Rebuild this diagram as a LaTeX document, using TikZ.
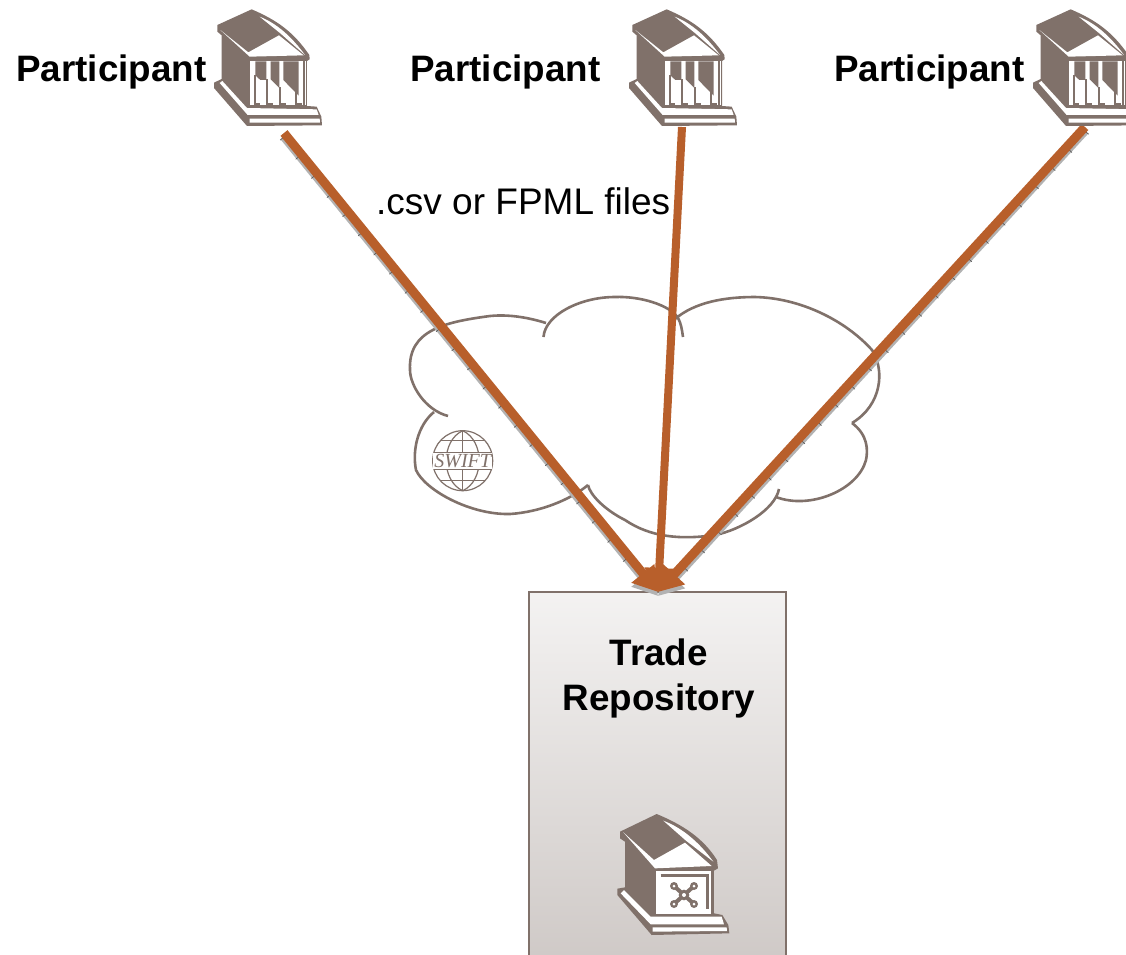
\documentclass[tikz,border=0pt]{standalone}
\usepackage{fontspec}
\setmainfont{Liberation Sans}
\newfontfamily\globefont{Liberation Serif}
\usetikzlibrary{arrows.meta}
\definecolor{brownink}{HTML}{80716A}
\definecolor{rust}{HTML}{B85F2B}
\definecolor{shadowgrey}{HTML}{B2B2B2}
\tikzset{
  lbl/.style={inner sep=0pt,font=\fontsize{37}{44.5}\selectfont,text=black},
  boldlbl/.style={lbl,font=\fontsize{36.8}{44.5}\selectfont\bfseries},
  cloudline/.style={draw=brownink,line width=2.6pt,line cap=butt},
  conn/.style={draw=rust,line width=9pt,-{Triangle[length=24pt,width=28pt]},rust},
  connthin/.style={conn,line width=8pt},
  connshadow/.style={draw=shadowgrey,line width=9pt,-{Triangle[length=24pt,width=28pt]},shadowgrey},
  connticks/.style={draw=black!65,line width=10.5pt,dash pattern=on .7pt off 24pt,shorten >=20pt},
  wh/.style={fill=white,draw=none},
  br/.style={fill=brownink,draw=none},
  pics/bank/.style={code={
    \begin{scope}[x=.3333pt,y=-.3333pt]
      % silhouette
      \fill[brownink] (140,28) -- (37,75) -- (37,95) -- (50,106) -- (50,237) -- (27,248) -- (27,264) -- (126,378) -- (351,376) -- (349,350) -- (335,320) -- (306,318) -- (306,183) -- (314,178) -- (313,165) .. controls (265,95) and (215,60) .. (140,28) -- cycle;
      % roof white
      \fill[wh] (46,90) -- (130,157) -- (222,106) -- (296,166) -- (134,170) -- cycle;
      \fill[wh] (164,50) .. controls (215,70) and (260,110) .. (300,165) -- (226,100) -- cycle;
      % colonnade
      \fill[wh] (136,184) -- (302,184) -- (302,316) -- (136,316) -- cycle;
      \fill[br] (151,184) -- (184,184) -- (184,240) -- (166,240) -- (151,226) -- cycle;
      \fill[br] (197,184) -- (223,184) -- (223,264) -- (197,238) -- cycle;
      \fill[br] (235,184) -- (281,184) -- (281,287) -- (235,240) -- cycle;
      \fill[br] (147,226) rectangle (153,318);
      \fill[br] (147,309) rectangle (166,318);
      \fill[br] (182,238) rectangle (188,318);
      \fill[br] (182,309) rectangle (205,318);
      \fill[br] (221,262) rectangle (227,318);
      \fill[br] (221,309) rectangle (243,318);
      \fill[br] (271,275) rectangle (277,318);
      \fill[br] (271,309) rectangle (290,318);
      \fill[br] (294,184) rectangle (299,318);
      % base
      \fill[wh] (52,243) -- (126,324) -- (335,328) -- (341,345) -- (128,345) -- (44,249) -- cycle;
      \fill[wh] (134,356) -- (344,356) -- (345,368) -- (134,368) -- cycle;
    \end{scope}
  }},
  pics/vaultbank/.style={code={
    \begin{scope}[x=.3333pt,y=-.3333pt]
      \fill[brownink] (170,42) -- (60,95) -- (60,115) -- (75,125) -- (75,262) -- (52,266) -- (52,285) -- (155,405) -- (388,400) -- (385,375) -- (367,345) -- (342,340) -- (342,212) -- (354,205) -- (351,180) .. controls (310,115) and (250,75) .. (170,42) -- cycle;
      \fill[wh] (70,97) -- (162,180) -- (255,128) -- (335,198) -- (165,205) -- cycle;
      \fill[wh] (190,62) .. controls (250,85) and (300,130) .. (340,185) -- (258,122) -- cycle;
      \fill[wh] (168,212) -- (334,212) -- (334,342) -- (168,342) -- cycle;
      \draw[brownink,line width=2.5pt] (182,226) -- (323,226) -- (323,326);
      \draw[brownink,line width=4pt] (222,258) -- (282,312) (282,258) -- (222,312);
      \fill[brownink] (252,285) circle (16);
      \fill[white] (252,285) circle (6);
      \foreach \cx/\cy in {222/258,282/258,222/312,282/312}{
        \fill[brownink] (\cx,\cy) circle (12);
        \fill[white] (\cx,\cy) circle (4.5);
      }
      \fill[wh] (72,270) -- (152,350) -- (365,350) -- (372,373) -- (152,373) -- (62,280) -- cycle;
      \fill[wh] (158,382) -- (380,382) -- (381,393) -- (158,395) -- cycle;
    \end{scope}
  }}
}
\begin{document}
\begin{tikzpicture}[x=1pt,y=-1pt]
  \useasboundingbox (0,0) rectangle (1126,954);
  \clip (0,0) rectangle (1126,954);
  \fill[white] (0,0) rectangle (1126,954);

  % Trade repository box
  \node[draw=brownink,line width=1.7pt,top color=brownink!9!white,bottom color=brownink!38!white,minimum width=257pt,minimum height=372pt,anchor=north west,inner sep=0pt] (tr) at (528.2,591.2) {};
  \node[boldlbl,align=center,anchor=base] (trlabel) at (658.8,710) {Trade\\Repository};
  \pic at (600,800) {vaultbank};

  % cloud
  \draw[cloudline] (448,416) .. controls (425,410) and (410,385) .. (410,370) .. controls (408,330) and (445,322) .. (490,316) .. controls (510,314) and (530,318) .. (546,323);
  \draw[cloudline] (543.5,337) .. controls (545,315) and (580,297) .. (615,297) .. controls (640,296) and (670,305) .. (678,318) .. controls (681,323) and (682,330) .. (683,337);
  \draw[cloudline] (675,319) .. controls (695,302) and (725,297) .. (755,297) .. controls (800,298) and (845,320) .. (872,350) .. controls (885,370) and (882,405) .. (852,423);
  \draw[cloudline] (852,423) .. controls (868,435) and (868,450) .. (866,460) .. controls (858,490) and (810,510) .. (776,497);
  \draw[cloudline] (779,489) .. controls (775,510) and (740,530) .. (715,535) .. controls (680,540) and (650,537) .. (625,520) .. controls (605,510) and (590,495) .. (588,485);
  \draw[cloudline] (588,485) .. controls (570,500) and (540,512) .. (510,514) .. controls (470,515) and (425,490) .. (416,470) .. controls (412,450) and (418,425) .. (434,412);

  % SWIFT logo
  \node[inner sep=0pt] (globe) at (462.7,460.7) {\begin{tikzpicture}[x=1pt,y=-1pt]
    \draw[brownink,line width=1.2pt] (0,0) circle (30);
    \draw[brownink,line width=1.2pt] (0,-30) .. controls (-22,-20) and (-22,20) .. (0,30);
    \draw[brownink,line width=1.2pt] (0,-30) .. controls (22,-20) and (22,20) .. (0,30);
    \draw[brownink,line width=1.2pt] (0,-30) -- (0,30);
    \draw[brownink,line width=1.2pt] (-22,-20) -- (22,-20) (-29,-8.5) -- (29,-8.5) (-29,8.5) -- (29,8.5) (-22,20) -- (22,20);
    \fill[white] (-29.5,-7.8) rectangle (29.5,7.8);
    \node[inner sep=0pt,text=brownink] (swifttext) at (0,0.5) {\fontsize{20}{20}\globefont\itshape SWIFT};
  \end{tikzpicture}};

  % endpoints
  \coordinate (p1out) at (284,133);
  \coordinate (p2out) at (682,127);
  \coordinate (p3out) at (1085,127);
  \coordinate (trin) at (658,592);
  \coordinate (p1shadow) at (284,136.5);
  \coordinate (p3shadow) at (1085,130.5);
  \coordinate (trshadow) at (658,596);

  % shadows
  \draw[connshadow] (p1shadow) -- (trshadow);
  \draw[connshadow] (p3shadow) -- (trshadow);
  \draw[connticks] (p1shadow) -- (trshadow);
  \draw[connticks] (p3shadow) -- (trshadow);
  % connectors
  \draw[conn] (p1out) -- (trin);
  \draw[connthin] (p2out) -- (trin);
  \draw[conn] (p3out) -- (trin);

  % participants
  \node[boldlbl,anchor=base west] (lab1) at (16,81) {Participant};
  \node[boldlbl,anchor=base west] (lab2) at (410,81) {Participant};
  \node[boldlbl,anchor=base west] (lab3) at (834,81) {Participant};
  \pic at (205,0) {bank};
  \pic at (620,0) {bank};
  \pic at (1024,0) {bank};

  \node[lbl,anchor=base west] (files) at (376,214) {.csv or FPML files};
\end{tikzpicture}
\end{document}
